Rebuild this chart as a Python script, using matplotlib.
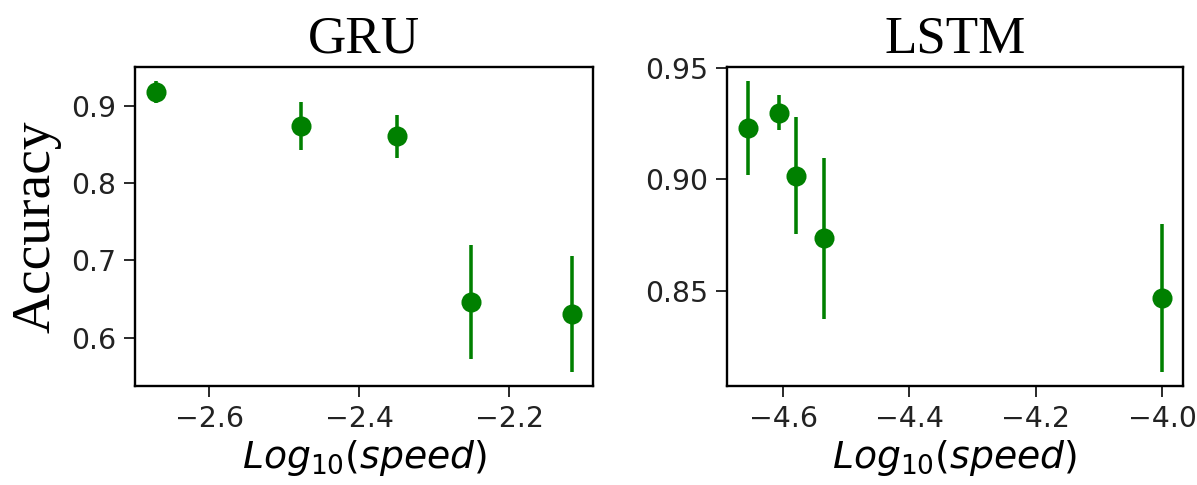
import matplotlib
matplotlib.use("Agg")
from matplotlib import pyplot as plt

# GRU results
gru_speed = [-2.671, -2.478, -2.350, -2.251, -2.116]
gru_acc = [0.918, 0.874, 0.861, 0.646, 0.631]
gru_err = [0.014, 0.031, 0.028, 0.074, 0.075]

# LSTM results
lstm_speed = [-4.656, -4.607, -4.579, -4.536, -4.000]
lstm_acc = [0.9228, 0.9299, 0.9017, 0.8736, 0.847]
lstm_err = [0.021, 0.008, 0.026, 0.036, 0.033]

titles = ["GRU", "LSTM"]

fig = plt.figure(figsize=(1197 / 170, 485 / 170), dpi=170)
ax1 = fig.add_axes([0.1128, 0.204, 0.3826, 0.658])
ax2 = fig.add_axes([0.6073, 0.204, 0.3810, 0.658])

serif = ['Liberation Serif', 'DejaVu Serif']

for ax, x, y, e, t in [(ax1, gru_speed, gru_acc, gru_err, titles[0]),
                       (ax2, lstm_speed, lstm_acc, lstm_err, titles[1])]:
    ax.errorbar(x, y, yerr=e, fmt='o', color='green', markersize=7.5)
    ax.set_title(t, fontsize=22.5, family=serif)
    ax.set_xlabel('$Log_{10}(speed)$', fontsize=16, labelpad=2)
    ax.tick_params(labelsize=12, length=4.5, colors='#222222', labelcolor='#222222')
    for s in ax.spines.values():
        s.set_linewidth(1.0)

ax1.set_ylabel('Accuracy', fontsize=23.5, family=serif)
ax1.set_xticks([-2.6, -2.4, -2.2])
ax2.set_xticks([-4.6, -4.4, -4.2, -4.0])
ax2.set_yticks([0.85, 0.90, 0.95])

fig.savefig('out.png', dpi=170)
